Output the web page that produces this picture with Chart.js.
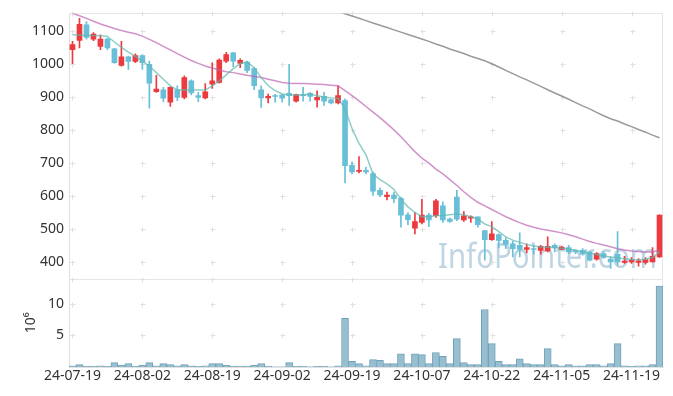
<!DOCTYPE html>
<html><head><meta charset="utf-8">
<script src="https://cdn.jsdelivr.net/npm/chart.js@4/dist/chart.umd.min.js"></script>
<style>html,body{margin:0;padding:0;background:#fff}canvas{display:block}</style>
</head><body>
<canvas id="c" width="673" height="396"></canvas>
<script>
const dates = ['24-07-19','24-07-22','24-07-23','24-07-24','24-07-25','24-07-26','24-07-29','24-07-30','24-07-31','24-08-01',
'24-08-02','24-08-05','24-08-06','24-08-07','24-08-08','24-08-09','24-08-12','24-08-13','24-08-14','24-08-16',
'24-08-19','24-08-20','24-08-21','24-08-22','24-08-23','24-08-26','24-08-27','24-08-28','24-08-29','24-08-30',
'24-09-02','24-09-03','24-09-04','24-09-05','24-09-06','24-09-09','24-09-10','24-09-11','24-09-12','24-09-13',
'24-09-19','24-09-20','24-09-23','24-09-24','24-09-25','24-09-26','24-09-27','24-09-30','24-10-02','24-10-04',
'24-10-07','24-10-08','24-10-10','24-10-11','24-10-14','24-10-15','24-10-16','24-10-17','24-10-18','24-10-21',
'24-10-22','24-10-23','24-10-24','24-10-25','24-10-28','24-10-29','24-10-30','24-10-31','24-11-01','24-11-04',
'24-11-05','24-11-06','24-11-07','24-11-08','24-11-11','24-11-12','24-11-13','24-11-14','24-11-15','24-11-18',
'24-11-19','24-11-20','24-11-21','24-11-22','24-11-25'];
const tickLabels = ['24-07-19','24-08-02','24-08-19','24-09-02','24-09-19','24-10-07','24-10-22','24-11-05','24-11-19'];
const priceTicks = [400,500,600,700,800,900,1000,1100];
const volTicks = [5,10];

const openP = [1045,1073,1120,1077,1055,1077,1047,997,1023,1009,
1027,1000,917,923,885,923,900,950,905,898,
940,945,1010,1035,1003,1007,987,923,898,905,
907,912,888,908,912,892,903,892,883,890,
693,675,678,668,617,598,603,593,543,502,
520,542,540,570,530,597,527,533,537,495,
467,483,465,455,450,438,440,435,433,450,
438,443,432,435,430,408,425,408,423,398,
400,398,398,400,415];
const highP = [1070,1140,1130,1097,1090,1080,1049,1070,1025,1032,
1030,1010,967,930,932,935,965,953,915,942,
1005,1017,1037,1037,1017,1010,990,935,910,909,
910,1000,910,930,915,920,915,894,935,895,
703,720,687,673,625,612,612,597,550,550,
590,547,590,582,533,617,553,540,537,495,
522,485,473,462,488,455,450,450,476,455,
448,450,435,440,430,428,430,415,492,417,
413,410,413,443,543];
const lowP = [1002,1050,1077,1072,1045,1045,1003,995,985,1005,
985,867,915,887,872,890,895,907,887,895,
927,943,1005,993,990,975,923,869,883,885,
885,875,885,888,888,870,875,880,880,640,
667,670,667,602,598,588,580,505,513,485,
515,507,535,520,520,525,523,520,505,405,
465,442,440,415,415,427,423,423,430,430,
437,425,425,420,403,405,410,380,389,395,
395,387,393,400,413];
const closeP = [1060,1122,1082,1092,1077,1050,1005,1023,1009,1027,
1005,943,925,897,930,900,960,913,900,917,
950,1013,1030,1010,1012,982,935,898,903,903,
897,905,908,905,903,900,888,883,905,692,
673,678,673,615,603,603,592,542,528,522,
542,527,585,527,523,530,540,537,513,467,
485,465,453,440,438,443,438,447,447,443,
445,430,430,423,405,425,413,400,400,402,
405,403,407,417,542];
const volume = [0.2,0.37,0.1,0.1,0.2,0.1,0.7,0.27,0.53,0.1,
0.27,0.7,0.2,0.53,0.37,0.2,0.37,0.2,0.1,0.2,
0.53,0.53,0.27,0.1,0.1,0.1,0.27,0.53,0.1,0.02,
0.02,0.7,0.1,0.1,0.02,0.1,0.1,0.02,0.2,7.7,
0.9,0.53,0.2,1.17,1.06,0.53,0.53,2.1,0.53,2.1,
1.96,0.53,2.3,1.7,0.53,4.5,0.7,0.37,0.37,9.1,
3.7,0.9,0.37,0.37,1.3,0.53,0.37,0.37,2.9,0.37,
0.2,0.37,0.2,0.2,0.37,0.37,0.2,0.53,3.7,0.2,
0.1,0.2,0.2,0.37,12.8];
const maShort = [1090,1089,1088,1088,1087,1085,1068,1052,1037,1024,
1010,995,975,955,935,922,922,922,922,922,
935,950,968,987,1002,1008,990,960,935,920,
910,908,907,908,909,905,901,898,897,865,
805,760,725,667,650,637,620,590,567,550,
537,537,540,541,543,545,543,537,530,515,
507,492,476,466,459,453,448,445,444,443,
441,439,435,431,426,422,418,415,412,409,
407,406,408,413,430];
const maMid = [1155,1148,1140,1131,1123,1116,1109,1103,1098,1093,
1086,1076,1066,1055,1044,1033,1022,1012,1003,995,
989,983,978,975,971,967,963,960,955,950,
945,943,942,942,941,940,939,937,935,920,
905,889,872,855,838,820,801,780,757,735,
715,700,682,667,650,632,613,596,581,570,
559,548,537,528,519,511,505,500,496,492,
488,482,476,469,462,456,451,446,440,436,
433,431,430,430,436];
const maLong = [null,null,null,null,null,null,null,null,null,null,
null,null,null,null,null,null,null,null,null,null,
null,null,null,null,null,null,null,null,null,null,
null,null,null,null,null,null,null,1168,1161,1154,
1147,1140,1133,1126,1119,1112,1105,1098,1091,1084,
1077,1070,1062,1055,1047,1040,1033,1025,1018,1011,
1002,992,982,972,962,953,943,933,923,913,
904,894,884,874,865,854,844,835,828,819,
811,802,794,785,777];

const UP = '#ec3a3f', DOWN = '#68bfd7';
const candleColor = closeP.map((c, i) => c >= openP[i] ? UP : DOWN);

Chart.defaults.font.family = '"Noto Sans", sans-serif';
Chart.defaults.font.size = 14;
Chart.defaults.color = '#333';

const marks = {
  id: 'marks',
  beforeDatasetsDraw(chart) {
    const {ctx, chartArea: ca, scales} = chart;
    const x = scales.x, y = scales.y, yv = scales.yv;
    ctx.save();
    ctx.font = '35px "Noto Sans"';
    ctx.fillStyle = 'rgba(150,188,210,0.62)';
    ctx.textBaseline = 'alphabetic';
    ctx.textAlign = 'left';
    ctx.fillText('InfoPointer.com', ca.right - 225, y.bottom - 11, 219);
    ctx.lineWidth = 1;
    ctx.strokeStyle = '#e6e6e6';
    ctx.beginPath();
    const t = Math.round(ca.top) + 0.5, r = Math.round(ca.right) - 0.5, d = Math.round(y.bottom) + 0.5;
    ctx.moveTo(ca.left, t); ctx.lineTo(ca.right, t);
    ctx.moveTo(r, ca.top); ctx.lineTo(r, ca.bottom);
    ctx.moveTo(ca.left, d); ctx.lineTo(ca.right, d);
    ctx.stroke();
    ctx.strokeStyle = '#e0e0e0';
    const xs = [];
    dates.forEach((dt, i) => { if (tickLabels.includes(dt)) xs.push(Math.round(x.getPixelForValue(i)) + 0.5); });
    const ys = priceTicks.map(v => y.getPixelForValue(v))
      .concat(volTicks.map(v => yv.getPixelForValue(v)), [y.bottom, ca.top])
      .map(v => Math.round(v) + 0.5);
    ctx.beginPath();
    xs.forEach(px => ys.forEach(py => {
      ctx.moveTo(px - 2, py); ctx.lineTo(px + 3, py);
      ctx.moveTo(px, py - 2); ctx.lineTo(px, py + 3);
    }));
    ctx.stroke();
    ctx.restore();
  }
};

new Chart(document.getElementById('c'), {
  type: 'bar',
  data: {
    labels: dates,
    datasets: [
      { type: 'line', label: 'MA short', data: maShort, yAxisID: 'y', borderColor: 'rgba(95,185,175,0.7)', borderWidth: 1.5, pointRadius: 0, tension: 0, order: 0 },
      { type: 'line', label: 'MA mid', data: maMid, yAxisID: 'y', borderColor: 'rgba(190,100,180,0.7)', borderWidth: 1.5, pointRadius: 0, tension: 0, order: 0 },
      { type: 'line', label: 'MA long', data: maLong, yAxisID: 'y', borderColor: 'rgba(120,120,120,0.75)', borderWidth: 1.5, pointRadius: 0, tension: 0, order: 0 },
      { label: 'body', data: openP.map((o, i) => [o, closeP[i]]), yAxisID: 'y', backgroundColor: candleColor, barThickness: 5, grouped: false, order: 2 },
      { label: 'wick', data: lowP.map((l, i) => [l, highP[i]]), yAxisID: 'y', backgroundColor: candleColor, barThickness: 1, grouped: false, order: 3 },
      { label: 'volume', data: volume, yAxisID: 'yv', backgroundColor: '#98bfd0', borderColor: '#6fa2b9', borderWidth: 1, categoryPercentage: 1, barPercentage: 1, grouped: false, order: 4 }
    ]
  },
  options: {
    responsive: false,
    animation: false,
    devicePixelRatio: 1,
    layout: { padding: { top: 10, right: 10, left: 0, bottom: 0 } },
    plugins: { legend: { display: false }, tooltip: { enabled: false } },
    scales: {
      x: {
        type: 'category',
        offset: true,
        grid: { display: false, drawTicks: false },
        border: { display: true, color: '#e2e2e2' },
        ticks: {
          autoSkip: false, maxRotation: 0, minRotation: 0, padding: 1,
          color: '#333', font: { size: 14 },
          callback: function (v, i) { const l = this.getLabelForValue(v); return tickLabels.includes(l) ? l : ''; }
        },
        afterFit: s => { s.height = 29; }
      },
      yv: {
        position: 'left', stack: 'panes', stackWeight: 1,
        min: 0, max: 14,
        grid: { display: false, drawTicks: false },
        border: { display: true, color: '#dedede' },
        ticks: { padding: 5, color: '#333', callback: v => String(v) },
        title: { display: true, text: '10\u2076', color: '#333', font: { size: 14 }, padding: { top: 23, bottom: 0 } },
        afterBuildTicks: s => { s.ticks = volTicks.map(v => ({ value: v })); },
        afterFit: s => { s.width = 69; }
      },
      y: {
        position: 'left', stack: 'panes', stackWeight: 3,
        min: 349, max: 1155,
        grid: { display: false, drawTicks: false },
        border: { display: true, color: '#dedede' },
        ticks: { padding: 5, color: '#333', callback: v => String(v) },
        afterBuildTicks: s => { s.ticks = priceTicks.map(v => ({ value: v })); },
        afterFit: s => { s.width = 69; }
      }
    }
  },
  plugins: [marks]
});
</script>
</body></html>
